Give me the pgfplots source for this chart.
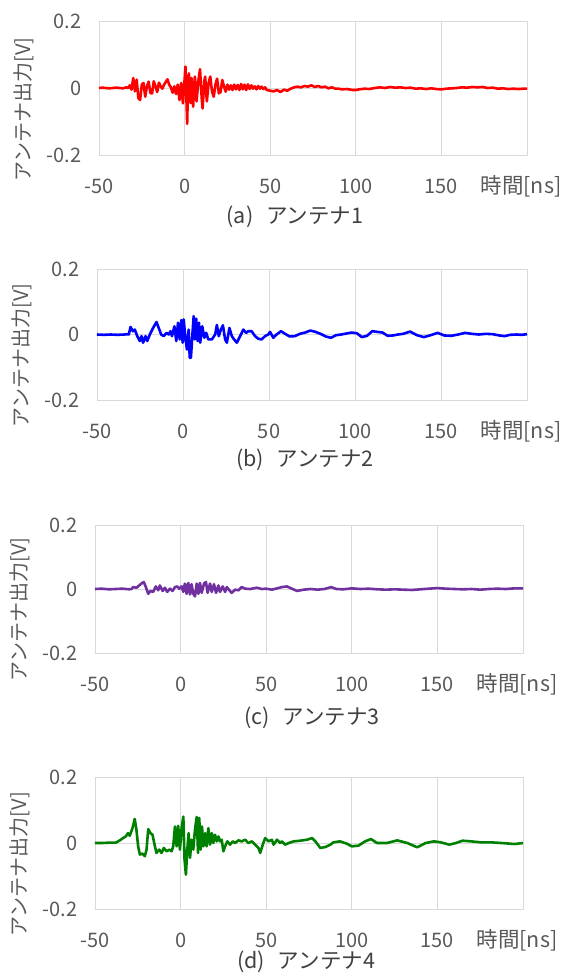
\documentclass[border=0pt]{standalone}
\usepackage{fontspec}
\setmainfont{Noto Sans CJK JP}
\usepackage{pgfplots}
\pgfplotsset{compat=1.18}

\definecolor{txtgray}{RGB}{89,89,89}
\definecolor{capgray}{RGB}{64,64,64}
\definecolor{gridgray}{RGB}{217,217,217}
\definecolor{ant1}{RGB}{255,0,0}
\definecolor{ant2}{RGB}{0,0,255}
\definecolor{ant3}{RGB}{112,48,160}
\definecolor{ant4}{RGB}{0,128,0}

\newcommand{\lbl}{\fontsize{20}{24}\selectfont}
\newcommand{\capfont}{\fontsize{21.5}{26}\selectfont}

\pgfplotsset{
  panel/.style={
    scale only axis, anchor=south west,
    xmin=-50, xmax=200, ymin=-0.2, ymax=0.2,
    xtick={-50,0,50,100,150,200},
    xticklabels={-50,0,50,100,150,},
    ytick={-0.2,0,0.2},
    yticklabels={-0.2,0,0.2},
    major tick length=0pt,
    grid=major,
    grid style={gridgray, line width=0.8pt},
    axis line style={gridgray, line width=0.8pt},
    tick label style={font=\lbl, text=txtgray},
    xticklabel style={anchor=base, yshift=-38pt},
    yticklabel style={anchor=east, xshift=-14pt},
    xlabel={時間[ns]},
    xlabel style={at={(axis description cs:1,0)}, anchor=base, yshift=-38pt, xshift=-6pt, font=\capfont, text=txtgray},
    ylabel={アンテナ出力[V]},
    ylabel style={at={(axis description cs:-0.175,0.34)}, anchor=center, font=\lbl, text=txtgray},
    every axis plot/.append style={line width=2.6pt, line join=round, mark=none},
  },
}

\begin{document}
\begin{tikzpicture}
\useasboundingbox (0,0) rectangle (569pt,-977pt);

% (a) antenna 1
\begin{axis}[panel, at={(99pt,-155pt)}, width=428pt, height=134pt]
\addplot[ant1] coordinates {
(-50,0.000) (-48,0.001) (-46,0.000) (-44,-0.001) (-42,0.000) (-40,0.001) (-38,0.000) (-36,-0.001)
(-34,0.002) (-33,0.000) (-32,0.008) (-31,-0.005) (-30,0.030) (-29,-0.010) (-28,0.025) (-27,-0.030)
(-26,-0.036) (-25,0.010) (-24,0.015) (-23,-0.026) (-22,0.005) (-21,0.019) (-20,-0.015) (-19,-0.016)
(-18,0.020) (-17,0.005) (-16,-0.012) (-15,0.016) (-14,0.005) (-13,-0.002) (-12,0.010) (-11,0.018)
(-10,0.026) (-9,0.010) (-8,0.002) (-7,-0.014) (-6,0.005) (-5,-0.018) (-4,0.010) (-3,-0.036)
(-2,0.015) (-1,-0.046) (0,0.025) (0.5,0.064) (1,-0.020) (1.5,-0.107) (2,0.010) (2.5,0.044)
(3,-0.010) (3.5,-0.045) (4,0.030) (5,-0.056) (5.5,0.000) (6,0.034) (7,-0.040) (8,0.020)
(9,0.056) (10,-0.030) (10.5,-0.061) (11.5,0.020) (12,0.034) (13,-0.040) (14,0.015) (15,0.034)
(16,-0.010) (17,-0.026) (18,0.010) (19,0.028) (20,-0.016) (21,-0.012) (22,0.024) (23,0.005)
(24,-0.011) (25,0.010) (26,-0.005) (27,0.008) (28,-0.006) (29,0.010) (30,-0.004) (31,0.009)
(32,-0.006) (33,0.012) (34,-0.004) (35,0.010) (36,-0.006) (37,0.011) (38,-0.003) (39,0.008)
(40,-0.002) (41,0.005) (42,-0.004) (43,0.006) (44,-0.002) (45,0.004) (46,-0.003) (47,0.002)
(48,-0.006) (50,-0.008) (52,-0.010) (54,-0.006) (56,-0.012) (58,-0.005) (60,-0.008) (62,-0.002)
(64,0.002) (66,0.004) (68,0.002) (70,0.006) (72,0.004) (74,0.008) (76,0.003) (78,0.006)
(80,0.002) (82,0.004) (84,-0.001) (86,0.002) (88,-0.002) (90,-0.002) (92,-0.004) (95,-0.003)
(98,-0.006) (100,-0.006) (102,-0.004) (105,-0.002) (108,-0.003) (111,0.000) (114,0.002) (117,0.000)
(120,0.003) (123,0.001) (126,0.002) (129,0.000) (132,0.001) (135,-0.002) (138,-0.001) (141,-0.003)
(144,-0.001) (147,-0.003) (150,-0.004) (153,-0.002) (156,-0.001) (159,0.000) (162,0.002) (165,0.001)
(168,0.003) (171,0.002) (174,0.003) (177,0.000) (180,0.001) (183,-0.002) (186,-0.001) (189,-0.003)
(192,-0.002) (195,-0.003) (198,-0.002) (200,-0.002)
};
\end{axis}

% (b) antenna 2
\begin{axis}[panel, at={(97pt,-400pt)}, width=430pt, height=131pt]
\addplot[ant2] coordinates {
(-50,0.000) (-46,-0.001) (-42,0.000) (-38,-0.001) (-34,0.000) (-32,0.001) (-31.5,0.000) (-30.5,0.023)
(-29.1,0.010) (-28,0.015) (-26.6,-0.005) (-25.1,-0.020) (-24.1,-0.005) (-23.2,-0.025) (-21.8,-0.005) (-20.8,-0.020)
(-19.3,0.000) (-17.4,0.020) (-15.4,0.038) (-14.1,0.020) (-12.7,0.000) (-11.2,-0.005) (-9.6,0.005) (-8.3,0.000)
(-7.3,0.010) (-6.4,-0.005) (-5.0,0.025) (-3.9,-0.020) (-2.9,0.036) (-1.9,-0.015) (-1.0,0.044) (-0.2,-0.025)
(0.4,0.046) (1.4,-0.010) (2.3,-0.046) (3.3,0.015) (3.9,-0.071) (4.6,-0.071) (5.4,-0.005) (6.2,0.056)
(6.9,-0.015) (7.7,0.048) (8.5,-0.020) (9.3,0.036) (10.0,-0.025) (11.2,0.025) (12.4,-0.010) (13.5,0.005)
(14.7,-0.015) (16.8,-0.015) (18.7,0.000) (19.7,0.029) (20.8,-0.005) (22.0,0.015) (23.2,0.028) (24.5,-0.015)
(25.5,-0.025) (27.0,0.020) (28.4,-0.005) (29.7,-0.015) (31.3,-0.025) (33.2,-0.005) (35.1,0.015) (36.7,0.005)
(38.0,0.010) (39.9,0.010) (41.9,-0.005) (43.8,-0.013) (45.7,-0.015) (47.7,-0.005) (49.6,0.000) (50.6,0.008)
(52.5,-0.010) (54.4,0.000) (57,0.010) (60,0.000) (62,-0.006) (65,-0.005) (68,0.002) (71,0.006)
(74,0.012) (77,0.008) (80,0.002) (83,-0.006) (86,-0.010) (89,-0.002) (92,0.000) (95,0.003)
(98,0.006) (101,0.004) (104,-0.008) (107,-0.004) (110,0.010) (113,0.008) (116,0.006) (119,-0.004)
(122,-0.003) (125,0.000) (128,0.002) (132,0.009) (136,-0.002) (140,-0.008) (144,-0.002) (148,0.005)
(152,-0.003) (156,-0.004) (160,0.000) (164,0.005) (168,0.002) (172,0.000) (176,0.002) (180,0.001)
(184,-0.003) (187,-0.005) (190,-0.001) (194,0.000) (197,-0.001) (200,0.001)
};
\end{axis}

% (c) antenna 3
\begin{axis}[panel, at={(95pt,-653pt)}, width=428pt, height=128pt]
\addplot[ant3] coordinates {
(-50,0.000) (-46,0.001) (-42,-0.001) (-38,0.000) (-34,0.001) (-30,-0.001) (-28.7,0.000) (-27.7,0.006)
(-25.8,0.004) (-24.2,0.011) (-22.9,0.017) (-21.5,0.022) (-20.3,0.006) (-18.9,-0.015) (-17.6,-0.006) (-16.0,-0.009)
(-14.5,0.008) (-13.1,-0.004) (-12.1,0.011) (-10.5,-0.006) (-9.2,0.004) (-7.8,-0.009) (-6.2,0.001) (-4.7,-0.006)
(-3.3,0.006) (-2.0,0.008) (-0.8,0.001) (0.6,0.008) (1.6,-0.009) (2.5,0.017) (3.5,-0.015) (4.5,0.019)
(5.5,-0.017) (6.4,0.015) (7.4,-0.015) (8.4,-0.023) (9.4,0.017) (10.4,-0.015) (11.3,0.019) (12.3,-0.012)
(13.7,0.017) (14.8,0.022) (15.8,-0.012) (17.2,0.017) (18.2,-0.009) (19.5,0.015) (20.7,-0.012) (22.1,0.011)
(23.0,-0.009) (24.6,0.008) (26.0,-0.009) (27.0,0.006) (28.5,-0.004) (29.9,-0.012) (31.8,-0.002) (33.8,-0.004)
(35.7,0.006) (37.7,0.001) (40.6,0.000) (44.5,0.004) (47.5,0.000) (50,0.001) (53.3,-0.002) (56.3,0.002)
(59.2,0.006) (62.1,0.008) (65,0.001) (68,-0.006) (72,-0.002) (76,0.000) (80,-0.002) (84,0.000)
(88,0.006) (91,0.000) (95,-0.001) (100,0.002) (105,0.000) (110,0.001) (115,-0.001) (120,-0.002)
(125,-0.001) (130,-0.002) (135,-0.003) (140,-0.001) (145,0.001) (150,0.003) (155,0.001) (160,0.000)
(165,-0.001) (170,0.000) (175,-0.002) (180,0.000) (185,0.001) (190,0.000) (195,0.002) (200,0.002)
};
\end{axis}

% (d) antenna 4
\begin{axis}[panel, at={(95pt,-909pt)}, width=428pt, height=132pt]
\addplot[ant4] coordinates {
(-50,0.000) (-46,0.000) (-42,0.001) (-38,0.001) (-37.5,0.002) (-35.5,0.008) (-33.6,0.015) (-32.0,0.020)
(-30.7,0.030) (-29.7,0.022) (-28.1,0.045) (-26.8,0.073) (-25.8,0.040) (-24.8,-0.010) (-23.8,-0.035) (-22.3,-0.032)
(-20.9,-0.040) (-19.9,-0.020) (-18.9,0.042) (-17.6,0.030) (-16.4,0.025) (-15.0,-0.010) (-14.1,-0.030) (-12.5,-0.020)
(-11.1,-0.030) (-9.8,-0.015) (-8.2,-0.025) (-6.6,-0.020) (-5.3,-0.025) (-4.3,-0.010) (-3.3,0.050) (-2.3,-0.010)
(-1.4,0.052) (-0.4,-0.020) (0.6,0.045) (1.6,0.080) (2.3,-0.050) (3.1,-0.096) (3.9,-0.020) (4.7,0.030)
(5.5,-0.045) (6.4,0.010) (7.4,-0.020) (8.4,0.040) (9.4,0.079) (10.2,-0.030) (10.9,0.076) (11.7,-0.020)
(12.5,0.050) (13.3,-0.010) (14.3,0.030) (15.2,-0.010) (16.2,0.045) (17.2,-0.005) (18.2,0.030) (19.1,0.000)
(20.1,0.025) (21.1,0.005) (22.1,0.020) (23.0,0.005) (24.0,0.010) (25.0,-0.025) (26.0,-0.010) (27.3,0.005)
(28.9,-0.005) (30.5,0.005) (31.8,0.000) (33.8,0.008) (35.7,0.005) (37.7,0.010) (39.6,0.000) (41.6,0.005)
(43.5,-0.005) (45.5,-0.015) (46.5,-0.030) (48.0,-0.005) (49.4,0.015) (51.4,0.005) (53.3,0.010) (54.3,-0.005)
(56.3,0.010) (58.2,0.000) (59.2,0.005) (61.1,-0.005) (63.1,0.000) (66.0,0.005) (69.9,0.007) (73.8,0.010)
(76.8,0.015) (78.7,0.005) (81.6,-0.015) (84.6,-0.012) (87.5,-0.005) (89.2,0.002) (93.1,0.005) (97.1,-0.002)
(100,-0.010) (103.9,-0.008) (107.8,0.005) (111.2,0.012) (114.7,0.000) (120.6,0.000) (126.5,0.008) (132.4,0.000)
(138.2,-0.013) (143.1,0.000) (148,0.005) (152,0.002) (156.9,-0.005) (160.8,0.000) (164.7,0.007) (169.6,0.005)
(175.5,0.002) (181.4,0.002) (187.3,0.000) (195.1,-0.003) (200,0.000)
};
\end{axis}

% captions
\node[font=\capfont, text=capgray] at (295pt,-217pt) {(a)\hspace{0.6em}アンテナ1};
\node[font=\capfont, text=capgray] at (305pt,-460pt) {(b)\hspace{0.6em}アンテナ2};
\node[font=\capfont, text=capgray] at (312pt,-718pt) {(c)\hspace{0.6em}アンテナ3};
\node[font=\capfont, text=capgray] at (306pt,-962pt) {(d)\hspace{0.6em}アンテナ4};
\end{tikzpicture}
\end{document}
